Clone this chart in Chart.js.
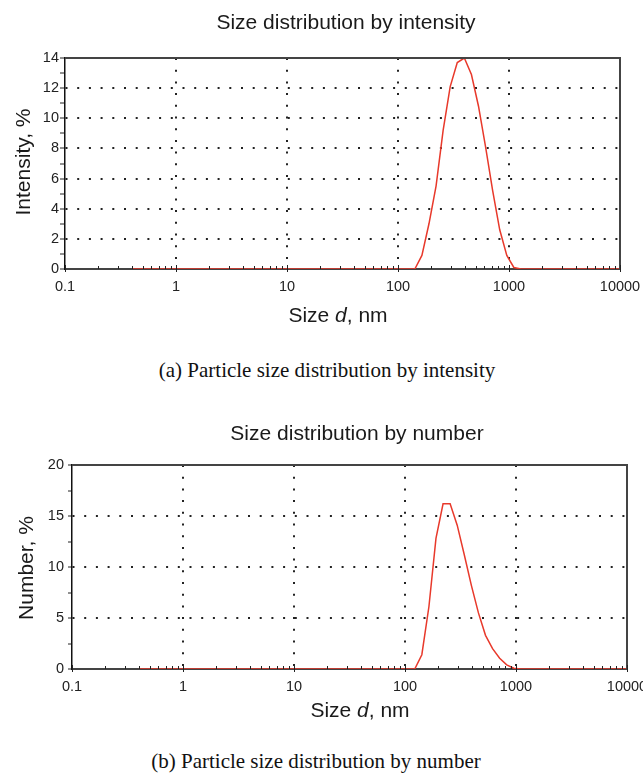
<!DOCTYPE html>
<html>
<head>
<meta charset="utf-8">
<script src="https://cdn.jsdelivr.net/npm/chart.js@4.4.0/dist/chart.umd.min.js"></script>
<style>
  body { margin: 0; background: #fff; }
  #page { position: relative; width: 643px; height: 774px; overflow: hidden; }
  canvas { position: absolute; left: 0; }
  .caption {
    position: absolute; white-space: nowrap; transform: translateX(-50%);
    font-family: 'Liberation Serif', 'Times New Roman', serif; font-size: 21px; line-height: 24px; color: #111;
  }
</style>
</head>
<body>
<div id="page">
  <canvas id="chartA" width="643" height="340" style="top:0"></canvas>
  <div class="caption" style="left:327px; top:358px">(a) Particle size distribution by intensity</div>
  <canvas id="chartB" width="643" height="330" style="top:400px"></canvas>
  <div class="caption" style="left:316px; top:749px">(b) Particle size distribution by number</div>
</div>
<script>
// Classes de tamanho (nm)
const sizeNm = [
  0.4, 0.4632, 0.5365, 0.6213, 0.7195, 0.8332, 0.9649, 1.117, 1.294, 1.499,
  1.736, 2.01, 2.328, 2.696, 3.122, 3.615, 4.187, 4.849, 5.615, 6.503,
  7.531, 8.721, 10.1, 11.7, 13.54, 15.69, 18.17, 21.04, 24.36, 28.21,
  32.67, 37.84, 43.82, 50.75, 58.77, 68.06, 78.82, 91.28, 105.7, 122.4,
  141.8, 164.2, 190.1, 220.2, 255.0, 295.3, 342.0, 396.1, 458.7, 531.2,
  615.1, 712.4, 825.0, 955.4, 1106, 1281, 1484, 1718, 1990, 2305,
  2669, 3091, 3580, 4145, 4801, 5560, 6439, 7456, 8635, 10000
];

// Intensidade (%)
const intensityPct = [
  0, 0, 0, 0, 0, 0, 0, 0, 0, 0,
  0, 0, 0, 0, 0, 0, 0, 0, 0, 0,
  0, 0, 0, 0, 0, 0, 0, 0, 0, 0,
  0, 0, 0, 0, 0, 0, 0, 0, 0, 0,
  0, 0.9, 3.0, 5.5, 9.2, 12.1, 13.7, 14.0, 12.9, 10.8,
  8.1, 5.2, 2.6, 0.9, 0.1, 0, 0, 0, 0, 0,
  0, 0, 0, 0, 0, 0, 0, 0, 0, 0
];

// Número (%)
const numberPct = [
  0, 0, 0, 0, 0, 0, 0, 0, 0, 0,
  0, 0, 0, 0, 0, 0, 0, 0, 0, 0,
  0, 0, 0, 0, 0, 0, 0, 0, 0, 0,
  0, 0, 0, 0, 0, 0, 0, 0, 0, 0,
  1.4, 6.1, 12.8, 16.2, 16.2, 14.1, 11.2, 8.2, 5.5, 3.3,
  2.0, 1.05, 0.4, 0.07, 0, 0, 0, 0, 0, 0,
  0, 0, 0, 0, 0, 0, 0, 0, 0, 0
];

const xMajorTicks = [0.1, 1, 10, 100, 1000, 10000];
const xMinorMultipliers = [2, 3, 4, 5, 6, 7, 8, 9];
const xTitleParts = [['Size ', 'normal'], ['d', 'italic'], [', nm', 'normal']];

const SANS = "'Liberation Sans', Arial, sans-serif";
const RED = '#e8392b';
const majorSet = new Set(xMajorTicks);

// todos os ticks do eixo log (maiores + menores)
const xTickValues = [];
xMajorTicks.forEach((m, i) => {
  xTickValues.push(m);
  if (i < xMajorTicks.length - 1) xMinorMultipliers.forEach(k => xTickValues.push(m * k));
});

const decorPlugin = {
  id: 'decor',
  afterDraw(chart, args, opts) {
    const { ctx, chartArea: a, scales } = chart;
    ctx.save();

    // moldura superior e direita
    ctx.strokeStyle = '#444';
    ctx.lineWidth = 2;
    ctx.beginPath();
    ctx.moveTo(a.left, a.top);
    ctx.lineTo(a.right, a.top);
    ctx.lineTo(a.right, a.bottom);
    ctx.stroke();

    // ticks do eixo x apontando para dentro
    const xs = scales.x;
    ctx.strokeStyle = '#222';
    ctx.lineWidth = 1;
    xs.ticks.forEach(t => {
      const px = Math.round(xs.getPixelForValue(t.value)) + 0.5;
      const major = majorSet.has(t.value);
      ctx.beginPath();
      ctx.moveTo(px, a.bottom + (major ? 3 : 0));
      ctx.lineTo(px, a.bottom - (major ? 4 : 3));
      ctx.stroke();
    });

    // textos
    ctx.fillStyle = '#1a1a1a';
    ctx.font = `21px ${SANS}`;
    ctx.textAlign = 'center';
    ctx.textBaseline = 'middle';
    ctx.fillText(opts.title, opts.titleX, opts.titleY);

    ctx.save();
    ctx.translate(opts.yTitleX, opts.yTitleY);
    ctx.rotate(-Math.PI / 2);
    ctx.fillText(opts.yTitle, 0, 0);
    ctx.restore();

    // título do eixo x com "d" em itálico
    ctx.textAlign = 'left';
    const widths = xTitleParts.map(([txt, style]) => {
      ctx.font = `${style} 21px ${SANS}`;
      return ctx.measureText(txt).width;
    });
    let x = opts.xTitleX - widths.reduce((s, w) => s + w, 0) / 2;
    xTitleParts.forEach(([txt, style], i) => {
      ctx.font = `${style} 21px ${SANS}`;
      ctx.fillText(txt, x, opts.xTitleY);
      x += widths[i];
    });

    ctx.restore();
  }
};

function makeChart(id, values, cfg) {
  const yTicks = [];
  for (let v = 0; v <= cfg.yMax + 1e-9; v += cfg.yStep / 2) yTicks.push(v);

  return new Chart(document.getElementById(id), {
    type: 'line',
    data: {
      datasets: [{
        data: sizeNm.map((s, i) => ({ x: s, y: values[i] })),
        borderColor: RED,
        borderWidth: 1.5,
        pointRadius: 0,
        tension: 0,
        fill: false
      }]
    },
    options: {
      responsive: false,
      animation: false,
      devicePixelRatio: 1,
      layout: { padding: { top: cfg.top, right: 643 - cfg.right, left: 0, bottom: 0 } },
      plugins: {
        legend: { display: false },
        tooltip: { enabled: false },
        title: { display: false },
        decor: cfg.decor
      },
      scales: {
        x: {
          type: 'logarithmic',
          min: 0.1,
          max: 10000,
          afterBuildTicks: s => { s.ticks = xTickValues.map(v => ({ value: v })); },
          afterFit: s => { s.height = cfg.canvasH - cfg.bottom; s.paddingLeft = 0; s.paddingRight = 0; },
          ticks: {
            autoSkip: false, maxRotation: 0, padding: 9, color: '#222',
            font: { family: SANS, size: 14.5 },
            callback: v => majorSet.has(v) ? String(v) : ''
          },
          grid: {
            drawTicks: false,
            lineWidth: 2,
            color: c => (c.tick && majorSet.has(c.tick.value) && c.tick.value > 0.1 && c.tick.value < 10000) ? '#222' : 'rgba(0,0,0,0)'
          },
          border: { color: '#444', width: 2, dash: [2, 9.7] }
        },
        y: {
          min: 0,
          max: cfg.yMax,
          afterBuildTicks: s => { s.ticks = yTicks.map(v => ({ value: v })); },
          afterFit: s => { s.width = cfg.left; s.paddingTop = 0; },
          ticks: {
            autoSkip: false, padding: cfg.labelPad, color: '#222',
            font: { family: SANS, size: 14.5 },
            callback: v => (v % cfg.yStep === 0) ? String(v) : ''
          },
          grid: {
            tickLength: cfg.tickLen,
            tickColor: '#222',
            tickWidth: 1,
            lineWidth: 2,
            color: c => (c.tick && c.tick.value % cfg.yStep === 0 && c.tick.value > 0 && c.tick.value < cfg.yMax) ? '#222' : 'rgba(0,0,0,0)'
          },
          border: { color: '#111', width: 1.5, dash: [2, 9.7] }
        }
      }
    },
    plugins: [decorPlugin]
  });
}

makeChart('chartA', intensityPct, {
  canvasH: 340, top: 58, bottom: 269, left: 65, right: 620,
  yMax: 14, yStep: 2, tickLen: 5, labelPad: 1,
  decor: {
    title: 'Size distribution by intensity', titleX: 346, titleY: 23,
    yTitle: 'Intensity, %', yTitleX: 24, yTitleY: 162,
    xTitleX: 338, xTitleY: 316
  }
});

makeChart('chartB', numberPct, {
  canvasH: 330, top: 65, bottom: 269, left: 72, right: 627,
  yMax: 20, yStep: 5, tickLen: 4, labelPad: 4,
  decor: {
    title: 'Size distribution by number', titleX: 357, titleY: 34,
    yTitle: 'Number, %', yTitleX: 27, yTitleY: 168,
    xTitleX: 360, xTitleY: 311
  }
});
</script>
</body>
</html>
